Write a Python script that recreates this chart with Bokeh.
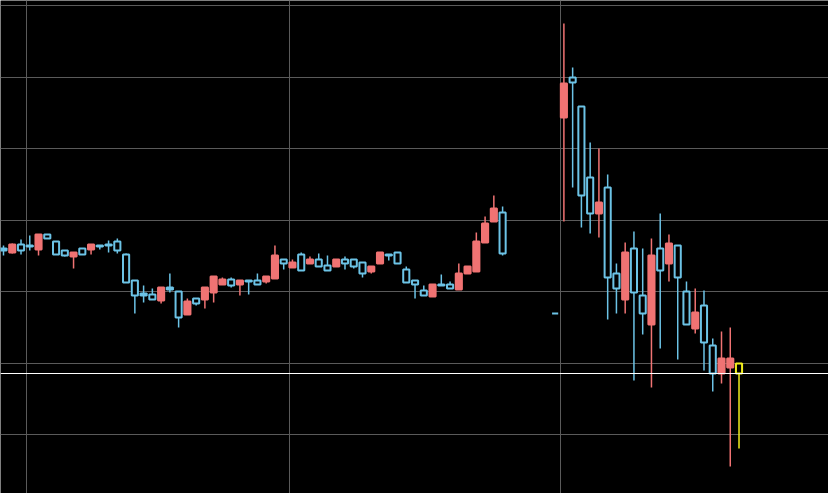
import pandas as pd
from bokeh.plotting import figure
from bokeh.models import ColumnDataSource, MonthsTicker, SingleIntervalTicker, Span, Range1d
from bokeh.embed import file_html
from bokeh.resources import INLINE

# ---- data (daily candles; Dec 26-30 missing) ----
first_day = "2021-10-29 08:00"
last_day = "2022-01-21 08:00"
closed_from, closed_to = "2021-12-26", "2021-12-30 23:59"

open_ = [126.04, 125.48, 126.60, 126.46, 125.90, 128.00, 127.02, 125.76, 124.92, 126.04,
         125.90, 126.46, 126.60, 127.02, 125.20, 121.56, 119.74, 119.60, 118.76, 120.58,
         120.02, 116.80, 119.04, 118.90, 119.88, 121.00, 121.70, 121.00, 121.56, 121.56,
         121.42, 121.84, 124.50, 123.38, 125.20, 123.94, 124.50, 123.66, 123.52, 124.50,
         124.50, 124.08, 122.82, 123.94, 125.20, 125.48, 123.10, 121.56, 120.16, 119.32,
         121.00, 121.00, 120.30, 122.54, 122.82, 126.88, 129.82, 131.08,
         116.94, 144.38, 149.98, 145.92, 135.98, 130.94, 134.58, 122.54, 118.90, 126.04,
         119.46, 115.40, 126.04, 123.94, 126.46, 120.02, 114.84, 118.06, 112.46, 108.54,
         109.38, 109.94]
high = [126.46, 126.74, 127.30, 127.86, 128.00, 128.00, 127.02, 125.76, 125.48, 126.04,
        126.60, 126.46, 127.16, 127.44, 125.34, 121.56, 120.86, 120.44, 120.58, 122.54,
        120.02, 119.04, 119.04, 120.58, 122.12, 121.98, 121.98, 121.56, 121.56, 122.54,
        122.12, 126.46, 124.50, 124.50, 125.48, 124.92, 125.34, 125.06, 124.50, 124.92,
        124.50, 124.08, 123.52, 125.48, 125.20, 125.48, 123.52, 121.56, 120.86, 121.00,
        122.40, 121.42, 123.94, 123.52, 128.28, 130.52, 133.46, 131.92,
        116.94, 157.54, 151.38, 145.92, 140.88, 140.04, 136.40, 123.94, 126.88, 128.42,
        126.04, 127.44, 130.94, 128.00, 126.46, 121.42, 120.44, 120.16, 113.44, 114.42,
        114.98, 109.94]
low = [125.06, 125.34, 125.20, 125.76, 125.06, 127.44, 125.20, 124.92, 123.24, 125.20,
       125.20, 125.90, 125.48, 125.34, 121.28, 116.94, 118.48, 118.90, 118.34, 119.88,
       114.98, 116.80, 118.06, 117.64, 118.48, 121.00, 120.58, 119.46, 119.60, 121.00,
       121.14, 121.84, 123.10, 123.38, 122.96, 123.94, 123.52, 122.96, 123.52, 123.10,
       123.24, 121.98, 122.54, 123.94, 124.36, 123.94, 121.28, 119.04, 119.46, 119.32,
       120.86, 120.44, 120.30, 122.54, 122.82, 126.88, 129.82, 125.06,
       116.94, 129.82, 134.58, 128.98, 128.14, 127.58, 116.10, 116.94, 116.94, 107.56,
       114.00, 106.58, 112.04, 121.42, 110.50, 115.40, 114.14, 108.96, 106.02, 107.14,
       95.52, 98.04]
close = [125.76, 126.60, 125.76, 126.32, 128.00, 127.44, 125.20, 125.06, 125.48, 125.20,
         126.60, 126.32, 126.46, 125.76, 121.28, 119.46, 119.46, 118.90, 120.58, 120.30,
         116.38, 118.62, 118.34, 120.58, 122.12, 121.70, 120.86, 121.56, 121.42, 121.00,
         122.12, 125.06, 123.94, 124.08, 122.96, 124.50, 123.52, 122.96, 124.50, 123.94,
         123.52, 122.54, 123.52, 125.48, 125.06, 123.94, 121.28, 121.00, 119.46, 121.00,
         120.86, 120.44, 122.54, 123.52, 127.02, 129.54, 131.64, 125.34,
         116.94, 149.14, 149.28, 133.46, 130.94, 132.48, 121.98, 120.44, 125.48, 119.88,
         116.94, 125.06, 122.96, 126.74, 121.98, 115.40, 117.08, 112.88, 108.54, 110.64,
         110.64, 108.54]

price_grid_step = 10

UP = "#F07373"
DOWN = "#6CC3E6"
LAST = "#F2EE1E"
BG = "#000000"
GRID = "#5A5A5A"

all_days = pd.date_range(first_day, last_day, freq="D")
days = [d for d in all_days if not (pd.Timestamp(closed_from) <= d <= pd.Timestamp(closed_to))]

n = len(days)
line_col, fill_col, top, bottom = [], [], [], []
for i in range(n):
    up = close[i] > open_[i]
    col = UP if up else DOWN
    if i == n - 1:
        col = LAST
    line_col.append(col)
    fill_col.append(col if up and i != n - 1 else BG)
    top.append(max(open_[i], close[i]))
    bottom.append(min(open_[i], close[i]))

src = ColumnDataSource(dict(t=days, o=open_, h=high, l=low, c=close,
                            top=top, bottom=bottom, lc=line_col, fc=fill_col))

day_ms = 86400000
x0 = pd.Timestamp(first_day)
p = figure(width=828, height=493, x_axis_type="datetime",
           x_range=Range1d(x0 - pd.Timedelta(days=0.343), x0 + pd.Timedelta(days=94.22)),
           y_range=Range1d(91.74, 160.76),
           output_backend="svg", toolbar_location=None, min_border=0)
p.background_fill_color = BG
p.border_fill_color = BG
p.outline_line_color = None
p.axis.visible = False
p.xgrid.ticker = MonthsTicker(months=list(range(12)))
p.ygrid.ticker = SingleIntervalTicker(interval=price_grid_step)
p.grid.grid_line_color = GRID
p.grid.grid_line_width = 1

p.segment(x0="t", y0="h", x1="t", y1="l", line_color="lc", line_width=1.5, source=src)
p.vbar(x="t", width=0.7 * day_ms, top="top", bottom="bottom",
       fill_color="fc", line_color="lc", line_width=2, source=src)

p.add_layout(Span(location=close[-1], dimension="width", line_color="#FFFFFF", line_width=1))

open("out.html", "w").write(file_html(p, INLINE))
